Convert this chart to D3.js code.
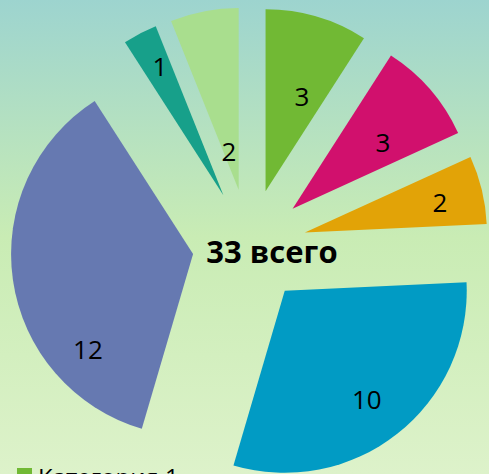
<!DOCTYPE html>
<html>
<head>
<meta charset="utf-8">
<script src="https://cdn.jsdelivr.net/npm/d3@7"></script>
<style>
  html, body { margin: 0; padding: 0; overflow: hidden; }
  svg { display: block; }
</style>
</head>
<body>
<svg id="chart" width="489" height="474"></svg>
<script>
// ---- data ----
const categories = ["Категория 1", "Категория 2", "Категория 3", "Категория 4", "Категория 5", "Категория 6", "Категория 7"];
const values = [3, 3, 2, 10, 12, 1, 2];
const colors = ["#71b934", "#d1106d", "#e2a307", "#019bc4", "#6679b1", "#17a08a", "#a9de8e"];
const totalLabel = "всего";

// ---- layout (label placement inside each exploded slice) ----
const labelT = [0.645, 0.65, 0.555, 0.511, 0.24, 0.59, 0.34];   // fraction across slice angle
const labelR = [0.555, 0.614, 0.76, 0.75, 0.78, 0.786, 0.215];  // fraction of radius

const W = 489, H = 474;
const cx = 249.5, cy = 246, R = 182, explode = 57;

const svg = d3.select("#chart");
const defs = svg.append("defs");
const grad = defs.append("linearGradient").attr("id", "bg").attr("x1", 0).attr("y1", 0).attr("x2", 0).attr("y2", 1);
grad.append("stop").attr("offset", "0%").attr("stop-color", "#9dd4cf");
grad.append("stop").attr("offset", "50%").attr("stop-color", "#c9ecb4");
grad.append("stop").attr("offset", "100%").attr("stop-color", "#ddf2ca");
svg.append("rect").attr("width", W).attr("height", H).attr("fill", "url(#bg)");

const pie = d3.pie().sort(null).value(d => d)(values);
const arc = d3.arc().innerRadius(0).outerRadius(R);

const g = svg.append("g").attr("transform", `translate(${cx},${cy})`);

const slices = g.selectAll("g.slice").data(pie).join("g")
  .attr("class", "slice")
  .attr("transform", d => {
    const a = (d.startAngle + d.endAngle) / 2;
    return `translate(${explode * Math.sin(a)},${-explode * Math.cos(a)})`;
  });

slices.append("path")
  .attr("d", arc)
  .attr("fill", (d, i) => colors[i]);

slices.append("text")
  .attr("x", (d, i) => {
    const a = d.startAngle + labelT[i] * (d.endAngle - d.startAngle);
    return labelR[i] * R * Math.sin(a);
  })
  .attr("y", (d, i) => {
    const a = d.startAngle + labelT[i] * (d.endAngle - d.startAngle);
    return -labelR[i] * R * Math.cos(a);
  })
  .attr("dy", "0.36em")
  .attr("text-anchor", "middle")
  .attr("font-family", "'Open Sans', sans-serif")
  .attr("font-size", 26)
  .attr("fill", "#000")
  .text(d => d.data);

// centre total
svg.append("text")
  .attr("x", 272).attr("y", 263)
  .attr("text-anchor", "middle")
  .attr("font-family", "'Open Sans', sans-serif")
  .attr("font-weight", "bold")
  .attr("font-size", 31)
  .attr("fill", "#000")
  .text(d3.sum(values) + " " + totalLabel);

// legend (only the top of the first row falls inside the frame)
const legend = svg.append("g").attr("transform", "translate(17,468)");
const items = legend.selectAll("g").data(categories).join("g")
  .attr("transform", (d, i) => `translate(0,${i * 30})`);
items.append("rect").attr("width", 15).attr("height", 15).attr("fill", (d, i) => colors[i]);
items.append("text")
  .attr("x", 21).attr("y", 18)
  .attr("font-family", "'Open Sans', sans-serif")
  .attr("font-size", 24)
  .attr("fill", "#000")
  .text(d => d);
</script>
</body>
</html>
